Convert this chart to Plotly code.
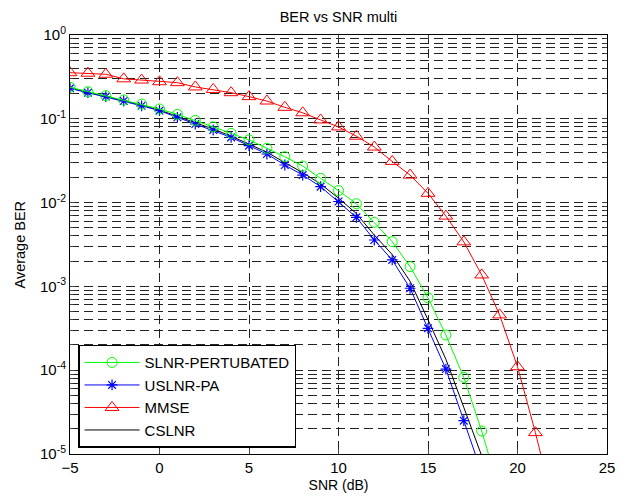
import plotly.graph_objects as go

snr_slnr = list(range(-5, 20))
ber_slnr = [0.238, 0.211, 0.189, 0.168, 0.150, 0.131, 0.113, 0.096, 0.080, 0.067,
            0.056, 0.0445, 0.0353, 0.0273, 0.0195, 0.0139, 0.0097, 0.00582, 0.00342,
            0.00172, 7.3e-4, 2.63e-4, 8.2e-5, 1.88e-5, 3.5e-6]

snr_uslnr = list(range(-5, 19))
ber_uslnr = [0.231, 0.205, 0.184, 0.163, 0.143, 0.125, 0.104, 0.0867, 0.0735, 0.060,
             0.0478, 0.038, 0.0281, 0.0213, 0.0155, 0.0103, 0.00667, 0.00358, 0.00207,
             9.5e-4, 3.16e-4, 1.03e-4, 2.5e-5, 6e-6]

snr_mmse = list(range(-5, 23))
ber_mmse = [0.355, 0.35, 0.34, 0.30, 0.29, 0.277, 0.27, 0.24, 0.224, 0.205,
            0.184, 0.163, 0.137, 0.118, 0.097, 0.080, 0.062, 0.046, 0.031,
            0.0213, 0.0129, 0.0069, 0.0034, 0.00137, 4.57e-4, 1.1e-4, 1.8e-5, 2.5e-6]

snr_cslnr = list(range(-5, 19))
ber_cslnr = [0.232, 0.207, 0.186, 0.165, 0.146, 0.127, 0.107, 0.089, 0.0755, 0.062,
             0.050, 0.040, 0.030, 0.0228, 0.0167, 0.0113, 0.0074, 0.0041, 0.0024,
             0.00115, 4.0e-4, 1.35e-4, 3.6e-5, 9.5e-6]

y_tick_vals = [1e-5, 1e-4, 1e-3, 1e-2, 1e-1, 1e0]
y_tick_text = ["10<sup>-5</sup>", "10<sup>-4</sup>", "10<sup>-3</sup>",
               "10<sup>-2</sup>", "10<sup>-1</sup>", "10<sup>0</sup>"]
x_tick_vals = [-5, 0, 5, 10, 15, 20, 25]

minor_vals = [m * 10.0 ** e for e in range(-5, 0) for m in range(2, 10)]

FONT = "Liberation Sans, Arial, sans-serif"

fig = go.Figure()
fig.add_trace(go.Scatter(x=snr_cslnr, y=ber_cslnr, mode="lines", name="CSLNR",
                         line=dict(color="black", width=1)))
fig.add_trace(go.Scatter(x=snr_mmse, y=ber_mmse, mode="lines+markers", name="MMSE",
                         line=dict(color="#ff0000", width=1),
                         marker=dict(symbol="triangle-up-open", size=12,
                                     color="#ff0000", line=dict(width=1))))
fig.add_trace(go.Scatter(x=snr_uslnr, y=ber_uslnr, mode="lines+markers", name="USLNR-PA",
                         line=dict(color="#0000ff", width=1),
                         marker=dict(symbol="asterisk-open", size=9,
                                     color="#0000ff", line=dict(width=1.2, color="#0000ff"))))
fig.add_trace(go.Scatter(x=snr_slnr, y=ber_slnr, mode="lines+markers", name="SLNR-PERTUBATED",
                         line=dict(color="#00ff00", width=1),
                         marker=dict(symbol="circle-open", size=10,
                                     color="#00ff00", line=dict(width=1))))

grid = dict(showgrid=True, gridcolor="#222", griddash="9px,5px", gridwidth=1)

fig.update_layout(
    width=623, height=497,
    margin=dict(l=70, r=16, t=35, b=43, autoexpand=False),
    paper_bgcolor="white", plot_bgcolor="white",
    font=dict(family=FONT, size=15, color="black"),
    title=dict(text="BER vs SNR multi", x=0.5, xref="paper", xanchor="center",
               y=1 - 17 / 497, yanchor="middle", font=dict(size=14.5)),
    showlegend=True,
    legend=dict(x=0.015, y=0.015, xanchor="left", yanchor="bottom",
                bgcolor="white", bordercolor="black", borderwidth=1.5,
                traceorder="reversed", font=dict(size=15), itemwidth=55,
                tracegroupgap=0),
    xaxis=dict(range=[-5, 25], tickvals=x_tick_vals, ticks="inside", ticklen=5,
               showline=True, linecolor="black", linewidth=1, mirror="ticks",
               zeroline=False, automargin=False,
               title=dict(text="SNR (dB)", standoff=5, font=dict(size=14)),
               tickfont=dict(size=15), **grid),
    yaxis=dict(type="log", range=[-5, 0], tickvals=y_tick_vals, ticktext=y_tick_text,
               ticks="inside", ticklen=5, showline=True, linecolor="black",
               linewidth=1, mirror="ticks", zeroline=False, automargin=False,
               tickfont=dict(size=15),
               minor=dict(tickvals=minor_vals, ticks="inside", ticklen=3,
                          showgrid=True, gridcolor="#222", griddash="9px,5px",
                          gridwidth=1),
               **grid),
    annotations=[dict(text="Average BER", xref="paper", yref="paper",
                      x=-51 / 537, y=0.5, xanchor="center", yanchor="middle",
                      textangle=-90, showarrow=False, font=dict(size=14.5))],
)

fig.write_html("out.html", config={"displayModeBar": False},
               post_script="document.body.style.margin='0';document.body.style.overflow='hidden';")
